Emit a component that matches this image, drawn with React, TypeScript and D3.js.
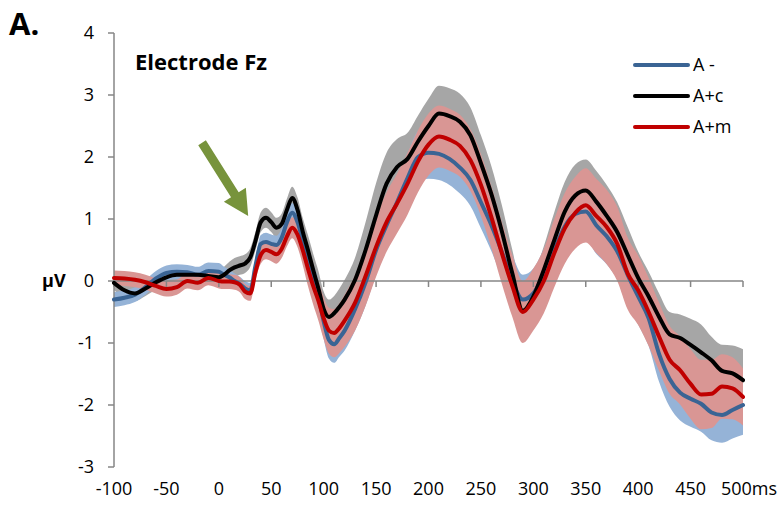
import React, { useEffect } from "react";
import * as d3 from "d3";

// time points (ms)
const TIMES = [
  -100, -90, -80, -70, -60, -50, -40, -30, -20, -10,
  0, 5, 10, 15, 20, 25, 30, 35, 40, 45,
  50, 55, 60, 65, 70, 75, 80, 85, 90, 95,
  100, 105, 110, 115, 120,
  130, 140, 150, 160, 170, 180, 190, 200, 210, 220,
  230, 240, 250, 260, 270, 280, 290, 300, 310, 320,
  330, 340, 350, 360, 370, 380, 390, 400, 410, 420,
  430, 440, 450, 460, 470, 480, 490, 500,
];

// A- (blue)
const A_MINUS = [
  -0.3, -0.27, -0.22, -0.1, 0.04, 0.13, 0.15, 0.14, 0.1, 0.16,
  0.15, 0.1, 0.06, 0.0, -0.05, -0.12, -0.15, 0.25, 0.6, 0.63,
  0.6, 0.58, 0.7, 0.95, 1.1, 0.95, 0.65, 0.3, 0.02, -0.25,
  -0.65, -0.95, -1.02, -0.92, -0.8,
  -0.45, -0.02, 0.5, 0.9, 1.27, 1.66, 2.0, 2.07, 2.05, 1.97,
  1.83, 1.63, 1.27, 0.9, 0.47, 0.0, -0.3, -0.2, 0.12, 0.5,
  0.88, 1.08, 1.12, 0.9, 0.72, 0.48, 0.1, -0.25, -0.6, -1.18,
  -1.58, -1.8, -1.9, -1.98, -2.12, -2.16, -2.08, -2.0,
];
const A_MINUS_SE = [
  0.12, 0.12, 0.12, 0.12, 0.12, 0.12, 0.12, 0.12, 0.13, 0.14,
  0.14, 0.13, 0.12, 0.12, 0.12, 0.12, 0.12, 0.13, 0.14, 0.15,
  0.15, 0.15, 0.15, 0.15, 0.16, 0.18, 0.2, 0.22, 0.25, 0.27,
  0.28, 0.3, 0.3, 0.3, 0.32,
  0.35, 0.38, 0.4, 0.4, 0.4, 0.4, 0.42, 0.42, 0.42, 0.42,
  0.42, 0.42, 0.42, 0.42, 0.42, 0.42, 0.4, 0.4, 0.4, 0.42,
  0.44, 0.45, 0.46, 0.46, 0.45, 0.45, 0.45, 0.45, 0.45, 0.45,
  0.45, 0.45, 0.45, 0.45, 0.45, 0.45, 0.46, 0.48,
];

// A+c (black)
const A_PLUS_C = [
  -0.03, -0.15, -0.2, -0.12, -0.02, 0.06, 0.1, 0.1, 0.1, 0.08,
  0.06, 0.1, 0.17, 0.22, 0.25, 0.28, 0.38, 0.65, 0.95, 1.02,
  0.95, 0.86, 0.92, 1.15, 1.34, 1.15, 0.8, 0.5, 0.18, -0.12,
  -0.45, -0.58, -0.52, -0.42, -0.3,
  0.02, 0.5, 1.06, 1.57, 1.84, 1.97, 2.25, 2.5, 2.7, 2.66,
  2.57, 2.35, 1.9, 1.4, 0.8, 0.12, -0.48, -0.25, 0.18, 0.66,
  1.12, 1.38, 1.46, 1.28, 1.05, 0.79, 0.42, 0.05, -0.25, -0.58,
  -0.86, -0.92, -1.03, -1.15, -1.28, -1.45, -1.49, -1.6,
];
const A_PLUS_C_SE = [
  0.12, 0.12, 0.12, 0.12, 0.12, 0.12, 0.12, 0.12, 0.12, 0.12,
  0.13, 0.13, 0.14, 0.15, 0.15, 0.15, 0.15, 0.15, 0.16, 0.16,
  0.16, 0.16, 0.17, 0.18, 0.18, 0.2, 0.22, 0.24, 0.26, 0.28,
  0.28, 0.28, 0.28, 0.3, 0.32,
  0.36, 0.45, 0.52, 0.5, 0.45, 0.42, 0.42, 0.44, 0.45, 0.45,
  0.45, 0.45, 0.45, 0.45, 0.42, 0.38, 0.32, 0.32, 0.38, 0.45,
  0.48, 0.5, 0.5, 0.5, 0.5, 0.48, 0.45, 0.42, 0.4, 0.38,
  0.36, 0.38, 0.42, 0.45, 0.38, 0.42, 0.45, 0.5,
];

// A+m (red)
const A_PLUS_M = [
  0.05, 0.04, 0.02, -0.02, -0.08, -0.13, -0.1, 0.0, -0.03, 0.05,
  0.0, -0.01, -0.01, -0.02, -0.06, -0.17, -0.2, 0.15, 0.42, 0.5,
  0.47, 0.43, 0.52, 0.72, 0.86, 0.75, 0.5, 0.2, -0.08, -0.32,
  -0.6, -0.8, -0.84, -0.76, -0.64,
  -0.35, 0.08, 0.55, 0.95, 1.25, 1.57, 1.93, 2.2, 2.33, 2.28,
  2.18, 1.95, 1.55, 1.03, 0.45, -0.08, -0.5, -0.3, 0.0, 0.45,
  0.85, 1.1, 1.22, 1.05, 0.87, 0.6, 0.12, -0.15, -0.5, -0.9,
  -1.27, -1.44, -1.66, -1.83, -1.82, -1.7, -1.73, -1.87,
];
const A_PLUS_M_SE = [
  0.12, 0.12, 0.12, 0.12, 0.12, 0.12, 0.12, 0.12, 0.12, 0.12,
  0.12, 0.12, 0.12, 0.12, 0.12, 0.12, 0.12, 0.13, 0.14, 0.15,
  0.15, 0.15, 0.15, 0.16, 0.17, 0.2, 0.24, 0.28, 0.3, 0.32,
  0.34, 0.37, 0.39, 0.4, 0.42,
  0.45, 0.48, 0.48, 0.48, 0.48, 0.5, 0.5, 0.5, 0.5, 0.5,
  0.5, 0.5, 0.5, 0.5, 0.5, 0.5, 0.5, 0.5, 0.52, 0.55,
  0.57, 0.58, 0.6, 0.6, 0.6, 0.6, 0.58, 0.56, 0.55, 0.55,
  0.55, 0.55, 0.56, 0.56, 0.55, 0.52, 0.5, 0.46,
];

const SERIES_NAMES = ["A -", "A+c", "A+m"];
const LINE_COLORS = ["#3a6494", "#000000", "#c00000"];
const BAND_COLORS = ["#95b3d7", "#a6a6a6", "#d99694"];

const X_TICKS = [-100, -50, 0, 50, 100, 150, 200, 250, 300, 350, 400, 450, 500];
const X_TICK_LABELS = ["-100", "-50", "0", "50", "100", "150", "200", "250", "300", "350", "400", "450", "500ms"];
const Y_TICKS = [-3, -2, -1, 0, 1, 2, 3, 4];

// annotation arrow in data coordinates [ms, µV]
const ARROW_FROM = [-16, 2.23];
const ARROW_TO = [28, 1.05];

const W = 781;
const H = 510;
const FONT = "'Open Sans', 'Liberation Sans', sans-serif";

export default function App() {
  useEffect(() => {
    document.body.style.margin = "0";
  }, []);

  const x = d3.scaleLinear().domain([-100, 500]).range([114, 743]);
  const y = d3.scaleLinear().domain([-3, 4]).range([467, 33]);

  const series = [
    { name: SERIES_NAMES[0], v: A_MINUS, se: A_MINUS_SE, line: LINE_COLORS[0], band: BAND_COLORS[0] },
    { name: SERIES_NAMES[1], v: A_PLUS_C, se: A_PLUS_C_SE, line: LINE_COLORS[1], band: BAND_COLORS[1] },
    { name: SERIES_NAMES[2], v: A_PLUS_M, se: A_PLUS_M_SE, line: LINE_COLORS[2], band: BAND_COLORS[2] },
  ];

  const bandOrder = [1, 0, 2];

  const area = (s: any) =>
    d3
      .area<number>()
      .x((_, i) => x(TIMES[i]))
      .y0((d, i) => y(d - s.se[i]))
      .y1((d, i) => y(d + s.se[i]))
      .curve(d3.curveMonotoneX)(s.v) as string;

  const line = (s: any) =>
    d3
      .line<number>()
      .x((_, i) => x(TIMES[i]))
      .y((d) => y(d))
      .curve(d3.curveMonotoneX)(s.v) as string;

  // arrow polygon
  const p0 = [x(ARROW_FROM[0]), y(ARROW_FROM[1])];
  const p1 = [x(ARROW_TO[0]), y(ARROW_TO[1])];
  const dx = p1[0] - p0[0];
  const dy = p1[1] - p0[1];
  const len = Math.hypot(dx, dy);
  const u = [dx / len, dy / len];
  const n = [-u[1], u[0]];
  const headLen = 25;
  const headHalf = 13;
  const shaftHalf = 4.5;
  const b = [p1[0] - u[0] * headLen, p1[1] - u[1] * headLen];
  const pts = [
    [p0[0] + n[0] * shaftHalf, p0[1] + n[1] * shaftHalf],
    [b[0] + n[0] * shaftHalf, b[1] + n[1] * shaftHalf],
    [b[0] + n[0] * headHalf, b[1] + n[1] * headHalf],
    p1,
    [b[0] - n[0] * headHalf, b[1] - n[1] * headHalf],
    [b[0] - n[0] * shaftHalf, b[1] - n[1] * shaftHalf],
    [p0[0] - n[0] * shaftHalf, p0[1] - n[1] * shaftHalf],
  ];

  const axisColor = "#868686";

  return (
    <svg
      width={W}
      height={H}
      viewBox={`0 0 ${W} ${H}`}
      style={{ position: "absolute", left: 0, top: 0, background: "#fff" }}
      fontFamily={FONT}
    >
      <rect x={0} y={0} width={W} height={H} fill="#fff" />
      {/* bands */}
      {bandOrder.map((k) => (
        <path key={"b" + k} d={area(series[k])} fill={series[k].band} stroke="none" />
      ))}

      {/* x axis */}
      <line x1={x(-100)} x2={x(500)} y1={y(0)} y2={y(0)} stroke={axisColor} strokeWidth={1.5} />
      {X_TICKS.map((t) => (
        <line key={"xt" + t} x1={x(t)} x2={x(t)} y1={y(0)} y2={y(0) + 6} stroke={axisColor} strokeWidth={1.5} />
      ))}
      {/* y axis */}
      <line x1={x(-100)} x2={x(-100)} y1={y(4)} y2={y(-3)} stroke={axisColor} strokeWidth={1.5} />
      {Y_TICKS.map((t) => (
        <line key={"yt" + t} x1={x(-100) - 6} x2={x(-100)} y1={y(t)} y2={y(t)} stroke={axisColor} strokeWidth={1.5} />
      ))}

      {/* lines */}
      {series.map((s) => (
        <path key={"l" + s.name} d={line(s)} fill="none" stroke={s.line} strokeWidth={4} strokeLinejoin="round" strokeLinecap="round" />
      ))}

      {/* y tick labels */}
      {Y_TICKS.map((t) => (
        <text key={"yl" + t} x={94} y={y(t)} dy="0.35em" textAnchor="end" fontSize={18} fill="#000">
          {t}
        </text>
      ))}
      {/* x tick labels */}
      {X_TICKS.map((t, i) => (
        <text
          key={"xl" + t}
          x={x(t) + (i === X_TICKS.length - 1 ? 6 : 0)}
          y={495}
          textAnchor="middle"
          fontSize={18}
          fill="#000"
        >
          {X_TICK_LABELS[i]}
        </text>
      ))}

      <text x={42} y={287} fontSize={18} fontWeight="bold" fill="#000">µV</text>
      <text x={9} y={35} fontSize={31} fontWeight="bold" fill="#000">A.</text>
      <text x={135} y={70} fontSize={22} fontWeight="bold" fill="#000">Electrode Fz</text>

      {/* arrow */}
      <polygon points={pts.map((p) => p.join(",")).join(" ")} fill="#77933c" />

      {/* legend */}
      {series.map((s, i) => (
        <g key={"lg" + s.name} transform={`translate(0, ${65 + i * 31})`}>
          <line x1={635} x2={688} y1={0} y2={0} stroke={s.line} strokeWidth={4} strokeLinecap="round" />
          <text x={693} y={0} dy="0.35em" fontSize={18} fill="#000">{s.name}</text>
        </g>
      ))}
    </svg>
  );
}
